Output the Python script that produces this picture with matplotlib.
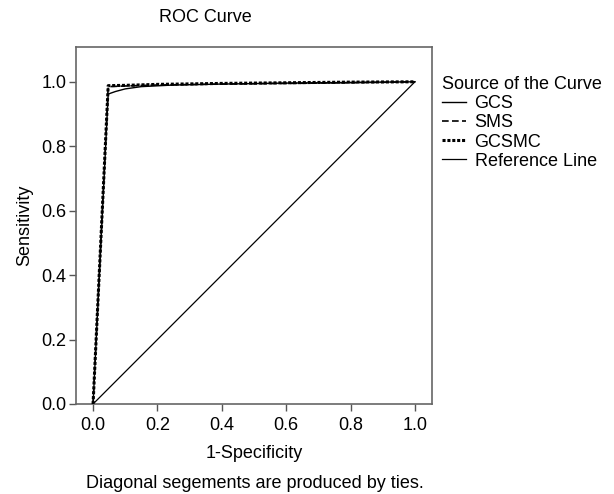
import matplotlib
matplotlib.use("Agg")
import matplotlib.pyplot as plt
from matplotlib import font_manager

fams = [f.name for f in font_manager.fontManager.ttflist]
fam = "Liberation Sans Narrow" if "Liberation Sans Narrow" in fams else "Liberation Sans"
plt.rcParams['font.family'] = [fam, 'DejaVu Sans']

# data
gcs_x = [0.0, 0.047, 0.07, 0.10, 0.15, 0.25, 0.40, 0.60, 1.0]
gcs_y = [0.0, 0.962, 0.970, 0.978, 0.985, 0.990, 0.993, 0.996, 1.0]
sms_x = [0.0, 0.047, 0.10, 0.20, 0.40, 0.60, 0.80, 1.0]
sms_y = [0.0, 0.985, 0.987, 0.990, 0.993, 0.995, 0.997, 1.0]
gcsmc_x = [0.0, 0.047, 0.10, 0.20, 0.40, 0.60, 0.80, 1.0]
gcsmc_y = [0.0, 0.988, 0.989, 0.992, 0.995, 0.997, 0.999, 1.0]
ref_x = [0.0, 1.0]
ref_y = [0.0, 1.0]
ticks = [0.0, 0.2, 0.4, 0.6, 0.8, 1.0]

fig = plt.figure(figsize=(6.14, 4.94), dpi=100)
ax = fig.add_axes([76/614, 1-404/494, (432-76)/614, (404-47)/494])

ax.plot(ref_x, ref_y, color='black', lw=0.9, label='Reference Line', zorder=2)
ax.plot(gcs_x, gcs_y, color='black', lw=1.0, ls='-', label='GCS', zorder=3)
ax.plot(sms_x, sms_y, color='black', lw=1.2, ls=(0, (4, 2)), label='SMS', zorder=3)
ax.plot(gcsmc_x, gcsmc_y, color='black', lw=2.2, ls=(0, (1, 0.6)), label='GCSMC', zorder=4)

ax.set_xlim(-0.053, 1.053)
ax.set_ylim(0, 1.108)
ax.set_xticks(ticks)
ax.set_yticks(ticks)
ax.set_xticklabels([f"{t:.1f}" for t in ticks])
ax.set_yticklabels([f"{t:.1f}" for t in ticks])
ax.tick_params(labelsize=13, length=5, width=1.0, color='#555555', pad=2)
ax.tick_params(axis='x', pad=4)
for s in ax.spines.values():
    s.set_color('#666666')
    s.set_linewidth(1.2)

ax.set_xlabel('1-Specificity', fontsize=13, labelpad=8)
ax.set_ylabel('Sensitivity', fontsize=13, labelpad=6)

fig.text(205/614, 1-18/494, 'ROC Curve', ha='center', va='center', fontsize=13)
fig.text(255/614, 1-483/494, 'Diagonal segements are produced by ties.', ha='center', va='center', fontsize=13)

handles, labels = ax.get_legend_handles_labels()
order = [1, 2, 3, 0]
leg = fig.legend([handles[i] for i in order], [labels[i] for i in order],
                 title='Source of the Curve', loc='upper left',
                 bbox_to_anchor=(433/614, 1-67/494), frameon=False,
                 fontsize=13, title_fontsize=13, handlelength=1.3,
                 handletextpad=0.5, labelspacing=0.12, borderpad=0.0)
leg._legend_box.align = 'left'

fig.savefig('out.png', dpi=100)
